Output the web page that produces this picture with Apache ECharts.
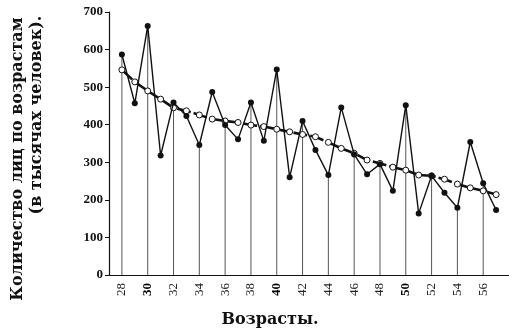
<!DOCTYPE html>
<html>
<head>
<meta charset="utf-8">
<script src="https://cdn.jsdelivr.net/npm/echarts@6/dist/echarts.min.js"></script>
<style>
  html, body { margin: 0; padding: 0; background: #fff; }
  #chart { width: 509px; height: 332px; }
</style>
</head>
<body>
<div id="chart"></div>
<script>
// Ages (years) and the number of persons at each age, in thousands
const ages = [28, 29, 30, 31, 32, 33, 34, 35, 36, 37, 38, 39, 40, 41, 42, 43, 44, 45, 46, 47, 48, 49, 50, 51, 52, 53, 54, 55, 56, 57];
const counts = [587, 457, 663, 318, 459, 423, 346, 487, 399, 361, 459, 357, 547, 260, 410, 333, 266, 446, 321, 268, 295, 224, 452, 164, 264, 219, 179, 354, 244, 173];
// Smoothed (adjusted) numbers for the same ages
const smoothed = [546, 514, 490, 468, 445, 437, 426, 415, 410, 406, 399, 395, 388, 381, 374, 368, 353, 337, 324, 306, 297, 287, 279, 266, 264, 255, 242, 232, 224, 214];
// Labelled ages on the horizontal axis; decade ages are printed bold
const ageTicks = [28, 30, 32, 34, 36, 38, 40, 42, 44, 46, 48, 50, 52, 54, 56];
const boldAges = [30, 40, 50];
const yTicks = [0, 100, 200, 300, 400, 500, 600, 700];

const chart = echarts.init(document.getElementById('chart'), null, { renderer: 'canvas' });

const rawPoints = ages.map((a, i) => [a, counts[i]]);
const smoothPoints = ages.map((a, i) => [a, smoothed[i]]);
// vertical guide lines at every even age, rising to the raw count
const dropPoints = rawPoints.filter(p => ageTicks.indexOf(p[0]) >= 0);

const serif = '"Liberation Serif", "DejaVu Serif", serif';
const titleFont = 'bold 16px "DejaVu Serif", serif';

chart.setOption({
  animation: false,
  backgroundColor: '#fff',
  grid: { left: 109, right: 0, top: 12, bottom: 57 },
  xAxis: {
    type: 'value',
    min: 27,
    max: 58,
    splitLine: { show: false },
    axisLine: { lineStyle: { color: '#111', width: 1.2 } },
    axisTick: { show: false },
    axisLabel: {
      customValues: ageTicks,
      rotate: 90,
      margin: 8,
      color: '#222',
      fontFamily: serif,
      fontSize: 13,
      formatter: v => boldAges.indexOf(v) >= 0 ? '{b|' + v + '}' : '{n|' + v + '}',
      rich: {
        b: { fontFamily: serif, fontSize: 13, fontWeight: 'bold', color: '#000' },
        n: { fontFamily: serif, fontSize: 13, color: '#222' }
      }
    }
  },
  yAxis: {
    type: 'value',
    min: 0,
    max: 700,
    interval: 100,
    splitLine: { show: false },
    axisLine: { show: true, lineStyle: { color: '#111', width: 1.2 } },
    axisTick: { show: true, length: 4, lineStyle: { color: '#111' } },
    axisLabel: {
      customValues: yTicks,
      margin: 6,
      color: '#111',
      fontFamily: serif,
      fontSize: 13,
      fontWeight: 'bold'
    }
  },
  series: [
    {
      name: 'drops',
      type: 'bar',
      data: dropPoints,
      barWidth: 1,
      itemStyle: { color: '#555' },
      silent: true,
      z: 1
    },
    {
      name: 'smoothed',
      type: 'line',
      data: smoothPoints,
      symbol: 'circle',
      symbolSize: 6,
      lineStyle: { color: '#111', width: 2.6, type: [14, 3] },
      itemStyle: { color: '#fff', borderColor: '#111', borderWidth: 1 },
      z: 3
    },
    {
      name: 'raw',
      type: 'line',
      data: rawPoints,
      symbol: 'circle',
      symbolSize: 6,
      lineStyle: { color: '#111', width: 1.4 },
      itemStyle: { color: '#111', borderColor: '#111', borderWidth: 0 },
      z: 4
    }
  ],
  graphic: [
    {
      type: 'text',
      x: 18,
      y: 159,
      rotation: Math.PI / 2,
      style: {
        text: 'Количество лиц по возрастам',
        font: titleFont,
        fill: '#111',
        align: 'center',
        verticalAlign: 'middle'
      }
    },
    {
      type: 'text',
      x: 37,
      y: 115,
      rotation: Math.PI / 2,
      style: {
        text: '(в тысячах человек).',
        font: titleFont,
        fill: '#111',
        align: 'center',
        verticalAlign: 'middle'
      }
    },
    {
      type: 'text',
      x: 270,
      y: 320,
      style: {
        text: 'Возрасты.',
        font: titleFont,
        fill: '#111',
        align: 'center',
        verticalAlign: 'middle'
      }
    }
  ]
});
</script>
</body>
</html>
